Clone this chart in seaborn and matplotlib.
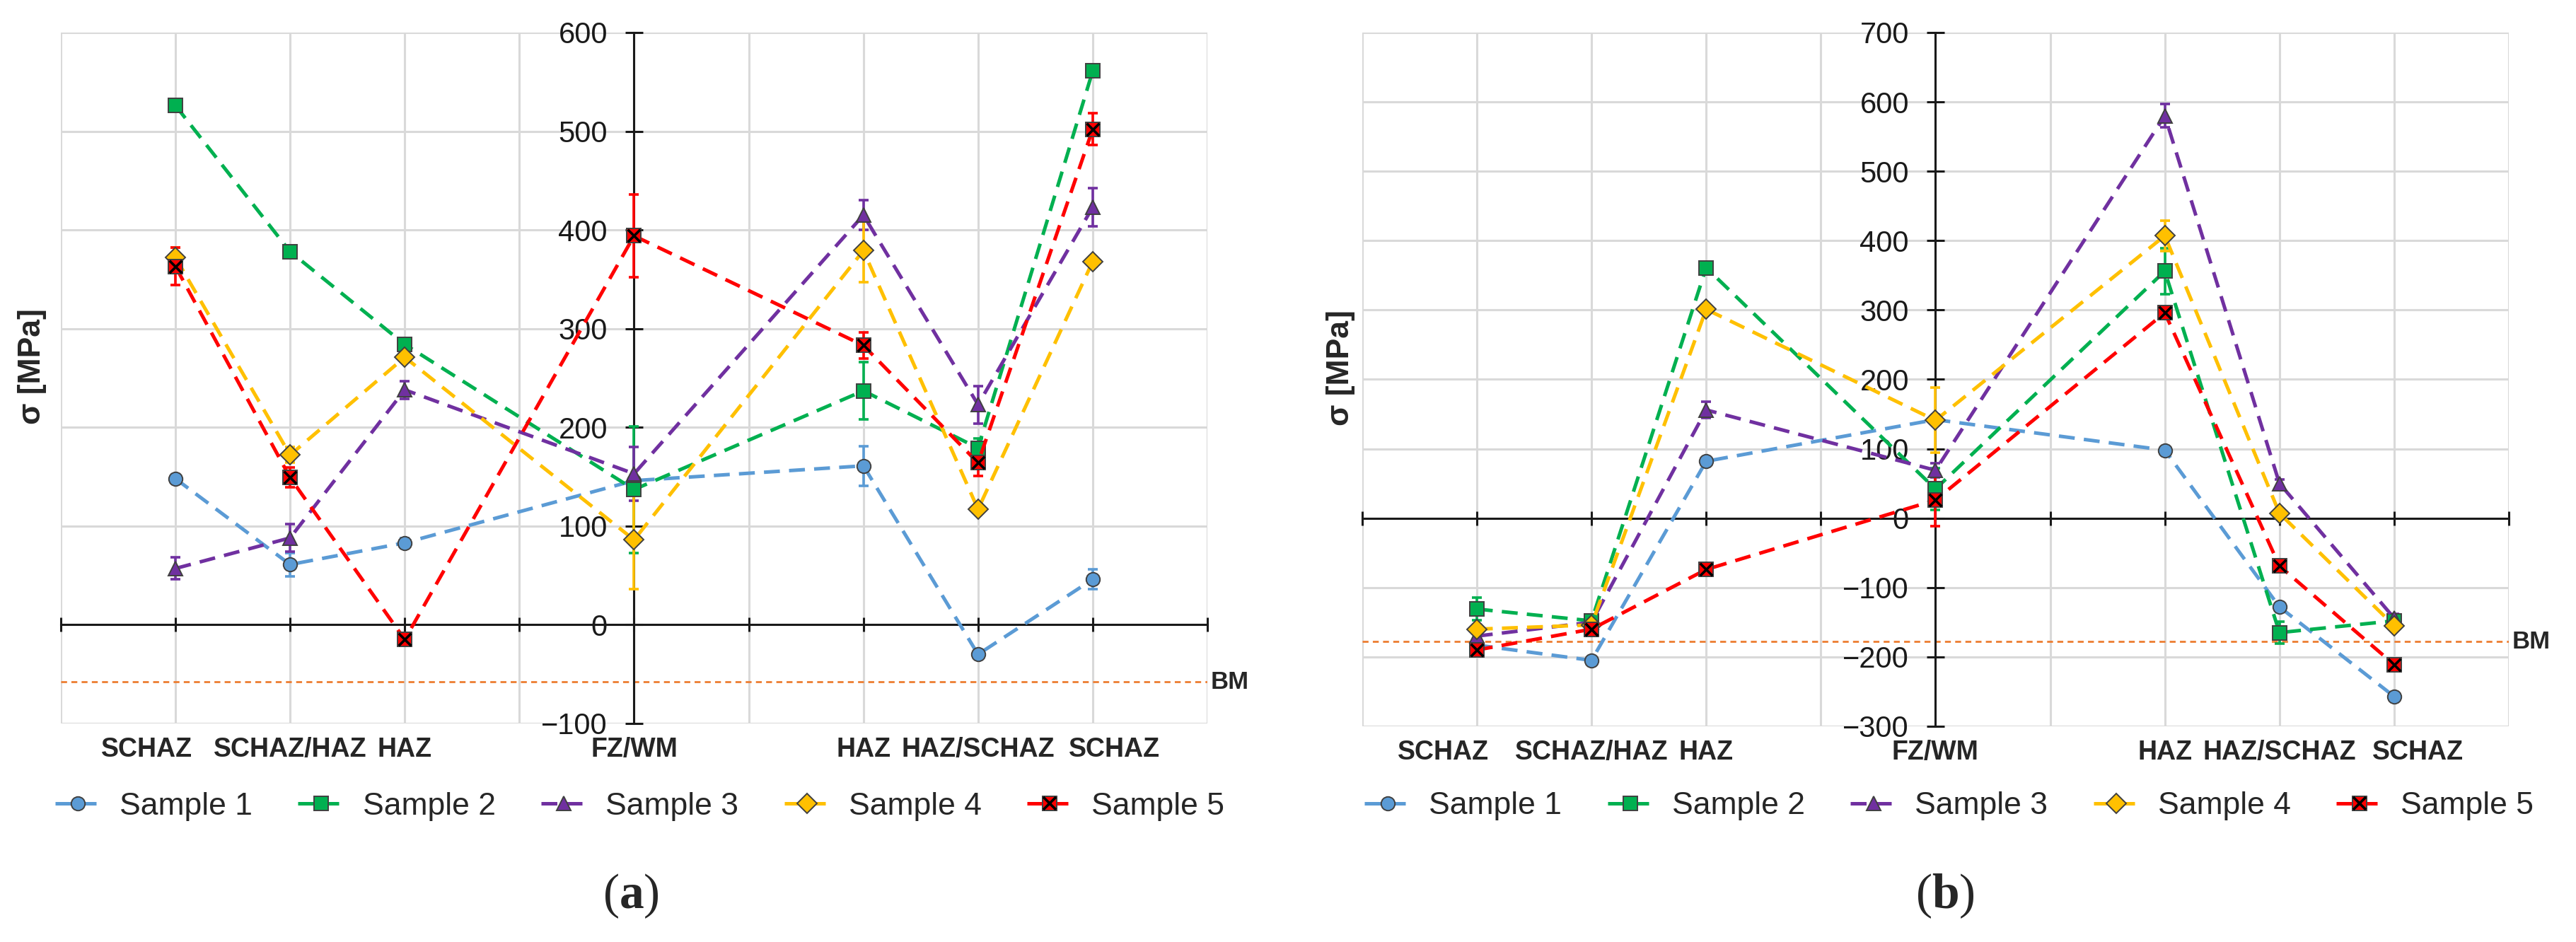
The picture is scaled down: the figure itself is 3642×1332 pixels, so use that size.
import numpy as np
import pandas as pd
import matplotlib
matplotlib.use('Agg')
import matplotlib.pyplot as plt
import matplotlib.transforms as mtransforms
from matplotlib.lines import Line2D
from matplotlib.legend_handler import HandlerTuple
import seaborn as sns

# zones along the weld, x position of each zone (4 and 6 are empty slots)
zones = ['SCHAZ', 'SCHAZ/HAZ', 'HAZ', 'FZ/WM', 'HAZ', 'HAZ/SCHAZ', 'SCHAZ']
zone_pos = [1, 2, 3, 5, 7, 8, 9]
samples = ['Sample 1', 'Sample 2', 'Sample 3', 'Sample 4', 'Sample 5']

# panel (a) - stress values and error bars [MPa]
a_s1 = [148, 61, 83, 146, 161, -30, 46]
a_s2 = [526, 378, 284, 137, 237, 179, 561]
a_s3 = [57, 88, 238, 153, 415, 223, 423]
a_s4 = [372, 172, 271, 86, 379, 117, 368]
a_s5 = [363, 149, -15, 394, 283, 164, 502]
a_e1 = [4, 12, 5, 5, 20, 4, 10]
a_e2 = [4, 4, 4, 64, 29, 10, 4]
a_e3 = [11, 14, 9, 27, 15, 19, 19]
a_e4 = [10, 8, 5, 50, 32, 4, 5]
a_e5 = [19, 10, 4, 42, 13, 13, 16]
a_bm = -58

# panel (b)
b_s1 = [-183, -205, 82, 142, 98, -128, -257]
b_s2 = [-131, -148, 361, 42, 356, -165, -148]
b_s3 = [-170, -150, 156, 69, 580, 50, -144]
b_s4 = [-160, -154, 301, 141, 407, 7, -155]
b_s5 = [-190, -160, -74, 26, 296, -69, -211]
b_e1 = [4, 4, 4, 4, 4, 4, 4]
b_e2 = [16, 6, 8, 30, 33, 16, 8]
b_e3 = [6, 6, 12, 10, 17, 6, 6]
b_e4 = [6, 6, 5, 47, 22, 5, 5]
b_e5 = [5, 5, 5, 38, 5, 5, 5]
b_bm = -178

colors = ['#5B9BD5', '#00B050', '#7030A0', '#FFC000', '#FF0000']
markers = ['o', 's', '^', 'D', 's']
dash = (4.5, 2.6)

sns.set_theme(style='white')
plt.rcParams['font.family'] = ['Liberation Sans', 'DejaVu Sans']
plt.rcParams['mathtext.fontset'] = 'custom'
plt.rcParams['mathtext.rm'] = 'Liberation Serif'
plt.rcParams['mathtext.bf'] = 'Liberation Serif:bold'

fig = plt.figure(figsize=(18.21, 6.66), dpi=200)
ax_a = fig.add_axes([0.0236, 0.232, 0.4451, 0.7335])
ax_b = fig.add_axes([0.5288, 0.229, 0.4451, 0.7365])


def panel(ax, vals, errs, ylo, yhi, bm, lab_x, shift, leg_x, leg_y):
    df = pd.DataFrame({
        'pos': zone_pos * len(samples),
        'val': np.concatenate(vals),
        'sample': np.repeat(samples, len(zone_pos)),
    })
    for v, e, c in zip(vals, errs, colors):
        ax.errorbar(zone_pos, v, yerr=e, fmt='none', ecolor=c, elinewidth=1.3,
                    capsize=2.6, capthick=1.3, zorder=2.5)
    sns.lineplot(data=df, x='pos', y='val', hue='sample', style='sample',
                 palette=dict(zip(samples, colors)),
                 markers=dict(zip(samples, markers)),
                 dashes=dict(zip(samples, [dash] * 5)),
                 ax=ax, legend=False, linewidth=1.8, markersize=7,
                 markeredgecolor='#404040', markeredgewidth=0.7, zorder=3)
    # black cross on the red squares of sample 5
    ax.scatter(zone_pos, vals[4], marker='x', color='black', s=40,
               linewidths=1.3, zorder=4)

    ax.axhline(bm, color='#ED7D31', lw=1.0, dashes=(3, 2.2), zorder=2)
    ax.text(1.003, bm, 'BM', transform=ax.get_yaxis_transform(),
            ha='left', va='center', fontsize=12.5, fontweight='bold')

    ax.set_xlim(0, 10)
    ax.set_ylim(ylo, yhi)
    ax.set_xticks(range(11))
    ax.set_yticks(np.arange(ylo, yhi + 1, 100))
    ax.set_xlabel('')
    ax.spines['left'].set_position(('data', 5))
    ax.spines['bottom'].set_position(('data', 0))
    for s in ['left', 'bottom']:
        ax.spines[s].set_color('#1a1a1a')
        ax.spines[s].set_linewidth(1.1)
        ax.spines[s].set_zorder(2.2)
    ax.spines['top'].set_visible(False)
    ax.spines['right'].set_visible(False)
    ax.grid(True, color='#d9d9d9', lw=1.1)
    ax.set_axisbelow(True)
    ax.tick_params(axis='y', direction='inout', length=9, width=1.1, pad=9,
                   labelsize=15, colors='#1a1a1a', left=True)
    ax.tick_params(axis='x', direction='inout', length=7, width=1.1,
                   labelbottom=False, bottom=True, colors='#1a1a1a')

    tr = mtransforms.blended_transform_factory(ax.transData, ax.transAxes)
    for i, (p, z) in enumerate(zip(zone_pos, zones)):
        ax.text(p + shift[i], -0.038, z, transform=tr, ha='center', va='center',
                fontsize=13.5, fontweight='bold', clip_on=False)

    ax.set_ylabel('σ [MPa]', fontsize=16, fontweight='bold')
    ax.yaxis.label.set_va('center')
    ax.yaxis.set_label_coords(lab_x, 0.517)

    handles = []
    for i, (c, m) in enumerate(zip(colors, markers)):
        h = Line2D([], [], color=c, lw=1.8, dashes=dash, marker=m, markersize=7,
                   markerfacecolor=c, markeredgecolor='#404040',
                   markeredgewidth=0.7)
        if i == 4:
            h = (h, Line2D([], [], ls='none', marker='x', color='black',
                           markersize=6.3, markeredgewidth=1.3))
        handles.append(h)
    ax.legend(handles, samples, loc='center', bbox_to_anchor=(leg_x, leg_y),
              ncol=5, frameon=False, fontsize=16, handlelength=1.45,
              handletextpad=0.6, columnspacing=1.45,
              handler_map={tuple: HandlerTuple(ndivide=1, pad=0)})


panel(ax_a, [a_s1, a_s2, a_s3, a_s4, a_s5], [a_e1, a_e2, a_e3, a_e4, a_e5],
      -100, 600, a_bm, -0.0247, [-0.25, 0, 0, 0, 0, 0, 0.19], 0.505, -0.12)
panel(ax_b, [b_s1, b_s2, b_s3, b_s4, b_s5], [b_e1, b_e2, b_e3, b_e4, b_e5],
      -300, 700, b_bm, -0.0185, [-0.29, 0, 0, 0, 0, 0, 0.21], 0.512, -0.115)

fig.text(0.245, 0.049, r'$(\mathbf{a})$', ha='center', va='center', fontsize=25)
fig.text(0.755, 0.049, r'$(\mathbf{b})$', ha='center', va='center', fontsize=25)

fig.savefig('out.png', dpi=200)
